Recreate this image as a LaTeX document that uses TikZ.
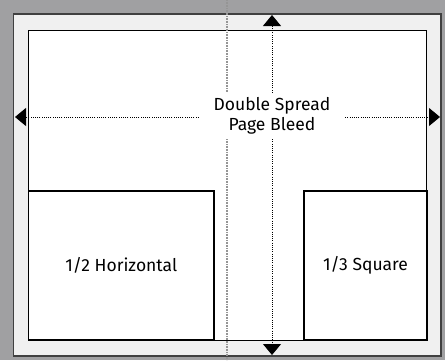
\documentclass[tikz,border=0pt]{standalone}
\usepackage{fontspec}
\setmainfont{Fira Sans}
\usetikzlibrary{arrows.meta,positioning}
\definecolor{frame}{HTML}{A0A0A2}
\definecolor{bleedgray}{HTML}{F0F0F0}
\definecolor{rim}{HTML}{404040}
\definecolor{fold}{HTML}{959595}
\begin{document}
\begin{tikzpicture}[x=1pt,y=-1pt,>={Triangle[width=18pt,length=11pt]},
		page/.style={draw=black,line width=1pt,fill=white},
		ad/.style={draw=black,line width=1.2pt,fill=white,inner sep=0pt,font=\fontsize{17.5}{20.5}\selectfont},
		guide/.style={->,line width=0.9pt,dash pattern=on 1pt off 1.2pt}]
		\fill[frame] (0,0) rectangle (445,360);
		\useasboundingbox (0,0) rectangle (445,360);
		\draw[rim,fill=bleedgray,line width=1.5pt] (13.5,14) rectangle (441,356);
		\draw[page] (28.5,30) rectangle (426.5,340);
		\draw[fold,line width=1.3pt,dash pattern=on 1pt off 0.6pt] (227,0) -- (227,360);
	
		\node[ad,minimum width=185.5pt,minimum height=149pt] (half) at (121.25,265.5) {1/2 Horizontal};
		\node[ad,minimum width=123pt,minimum height=149pt] (third) at (365.5,265.5) {1/3 Square};
		\node[fill=white,inner sep=0pt,minimum width=146pt,minimum height=46pt,align=center,
			font=\fontsize{17.5}{20.5}\selectfont] (spread) at (272,116) {Double Spread\\Page Bleed};
	
		\coordinate (west) at (15,117);
		\coordinate (east) at (440,117);
		\coordinate (north) at (272,15);
		\coordinate (south) at (272,355);
	
		\draw[guide] (spread.west |- west) -- (west);
		\draw[guide] (spread.east |- east) -- (east);
		\draw[guide] (spread.north) -- (north);
		\draw[guide] (spread.south) -- (south);
\end{tikzpicture}
\end{document}
